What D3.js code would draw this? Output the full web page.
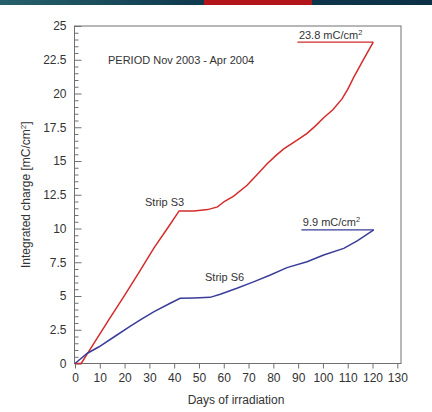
<!DOCTYPE html>
<html><head><meta charset="utf-8">
<script src="https://cdn.jsdelivr.net/npm/d3@7/dist/d3.min.js"></script>
<style>body{margin:0;background:#fff}svg{display:block}text{font-family:"Liberation Sans",Arial,sans-serif}</style>
</head><body>
<script>
// ---- data ----
const daysS3 = [0, 2.5, 8, 14, 20, 26, 32, 38, 42, 48, 53.5, 57.5, 60.2, 64, 69.4, 73.5, 77.5, 81, 84.2, 89.6, 93.6, 97, 100.3, 104, 107.7, 110, 112.4, 116, 120.3];
const chargeS3 = [0, 0, 1.6, 3.35, 5.05, 6.8, 8.6, 10.2, 11.3, 11.3, 11.4, 11.6, 12.0, 12.4, 13.2, 14.0, 14.8, 15.4, 15.9, 16.55, 17.05, 17.6, 18.2, 18.8, 19.6, 20.3, 21.2, 22.4, 23.8];
const daysS6 = [0, 5, 9.7, 16, 22.5, 27, 31.9, 38.4, 42.4, 48, 54.5, 58.6, 65.3, 72, 78.8, 85.5, 93.6, 100.3, 108.4, 114, 120.5];
const chargeS6 = [0, 0.76, 1.24, 2.0, 2.78, 3.3, 3.84, 4.46, 4.83, 4.86, 4.9, 5.13, 5.57, 6.05, 6.56, 7.1, 7.54, 8.04, 8.53, 9.1, 9.9];
const xTicks = [0,10,20,30,40,50,60,70,80,90,100,110,120,130];
const yTicks = [0,2.5,5,7.5,10,12.5,15,17.5,20,22.5,25];
const finalLabels = ["23.8", "9.9"];
const seriesNames = ["Strip S3", "Strip S6"];
const periodText = "PERIOD Nov 2003 - Apr 2004";

const W = 432, H = 412;
const svg = d3.select("body").append("svg").attr("width", W).attr("height", H);

// top banner
const defs = svg.append("defs");
const g1 = defs.append("linearGradient").attr("id","bar").attr("x1","0").attr("x2","1");
g1.append("stop").attr("offset","0").attr("stop-color","#26606b");
g1.append("stop").attr("offset","0.45").attr("stop-color","#103a4f");
g1.append("stop").attr("offset","1").attr("stop-color","#0c3147");
svg.append("rect").attr("x",0).attr("y",0).attr("width",W).attr("height",5).attr("fill","url(#bar)");
svg.append("rect").attr("x",204).attr("y",0).attr("width",108).attr("height",5).attr("fill","#b3161a");

const x = d3.scaleLinear().domain([0,130]).range([75, 397.3]);
const y = d3.scaleLinear().domain([0,25]).range([363.5, 26]);
const L = 74.5, R = 401, T = 26, B = 363.5;
const axisCol = "#707070", textCol = "#333";

// frame
svg.append("rect").attr("x",L).attr("y",T).attr("width",R-L).attr("height",B-T)
  .attr("fill","none").attr("stroke",axisCol).attr("stroke-width",1);

// x axis (ticks outward)
const xa = svg.append("g").attr("transform",`translate(0,${B})`)
  .call(d3.axisBottom(x).tickValues(xTicks).tickSize(5).tickPadding(5).tickFormat(d3.format("d")));
xa.select(".domain").remove();
xa.selectAll("line").attr("stroke",axisCol);
xa.selectAll("text").attr("fill",textCol).style("font-size","12px");

// y axis minor ticks (inward)
const minor = d3.range(0, 25.01, 0.5).filter(v => Math.abs(v/2.5 - Math.round(v/2.5)) > 1e-6);
const ym = svg.append("g").attr("transform",`translate(${L},0)`)
  .call(d3.axisRight(y).tickValues(minor).tickSize(4).tickFormat(""));
ym.select(".domain").remove();
ym.selectAll("line").attr("stroke",axisCol);
// y axis major ticks (inward) with labels left
const ya = svg.append("g").attr("transform",`translate(${L},0)`)
  .call(d3.axisRight(y).tickValues(yTicks).tickSize(7).tickFormat(""));
ya.select(".domain").remove();
ya.selectAll("line").attr("stroke",axisCol);
const yl = svg.append("g").attr("transform",`translate(${L},0)`)
  .call(d3.axisLeft(y).tickValues(yTicks).tickSize(0).tickPadding(8).tickFormat(d => String(d)));
yl.select(".domain").remove();
yl.selectAll("text").attr("fill",textCol).style("font-size","12px");

// axis titles
svg.append("text").attr("x",236).attr("y",404).attr("text-anchor","middle")
  .attr("fill",textCol).style("font-size","12px").text("Days of irradiation");
const yt = svg.append("text").attr("transform",`translate(30,${(T+B)/2}) rotate(-90)`)
  .attr("text-anchor","middle").attr("fill",textCol).style("font-size","12px");
yt.append("tspan").text("Integrated charge [mC/cm");
yt.append("tspan").attr("dy",-4).style("font-size","8px").text("2");
yt.append("tspan").attr("dy",4).text("]");

// lines
const line = d3.line().x(d => x(d[0])).y(d => y(d[1]));
const colS3 = "#d42b2b", colS6 = "#3a3d98";
svg.append("path").datum(daysS3.map((d,i)=>[d,chargeS3[i]]))
  .attr("d",line).attr("fill","none").attr("stroke",colS3).attr("stroke-width",1.5);
svg.append("path").datum(daysS6.map((d,i)=>[d,chargeS6[i]]))
  .attr("d",line).attr("fill","none").attr("stroke",colS6).attr("stroke-width",1.5);

// leader lines + final labels
const ends = [
  {d: daysS3[daysS3.length-1], v: chargeS3[chargeS3.length-1], start: 89.7, col: colS3, lab: finalLabels[0]},
  {d: daysS6[daysS6.length-1], v: chargeS6[chargeS6.length-1], start: 91.3, col: colS6, lab: finalLabels[1]}
];
ends.forEach(e => {
  svg.append("line").attr("x1",x(e.start)).attr("x2",x(e.d)).attr("y1",y(e.v)).attr("y2",y(e.v))
    .attr("stroke",e.col).attr("stroke-width",1.3);
  const t = svg.append("text").attr("x",x(e.start)+1.5).attr("y",y(e.v)-3.5)
    .attr("fill",textCol).style("font-size","11px");
  t.append("tspan").text(e.lab + " mC/cm");
  t.append("tspan").attr("dy",-4).style("font-size","7.5px").text("2");
});

// annotations
svg.append("text").attr("x",108).attr("y",64).attr("fill",textCol).style("font-size","11px").text(periodText);
svg.append("text").attr("x",145).attr("y",206).attr("fill",textCol).style("font-size","11px").text(seriesNames[0]);
svg.append("text").attr("x",205).attr("y",281).attr("fill",textCol).style("font-size","11px").text(seriesNames[1]);
</script>
</body></html>
